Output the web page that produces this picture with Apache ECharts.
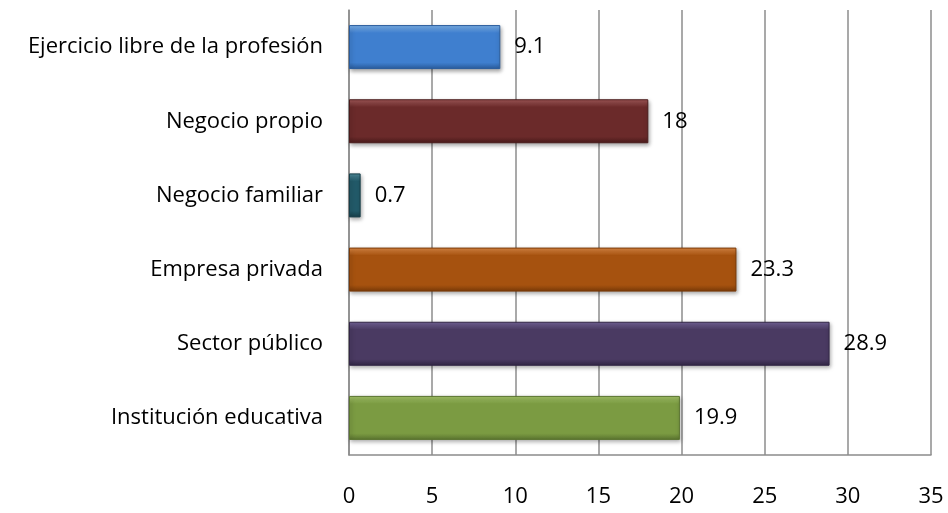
<!DOCTYPE html>
<html>
<head>
<meta charset="utf-8">
<script src="https://cdn.jsdelivr.net/npm/echarts@6/dist/echarts.min.js"></script>
<style>html,body{margin:0;padding:0;background:#fff;}#c{width:948px;height:513px;}</style>
</head>
<body>
<div id="c"></div>
<script>
// Data (bottom to top as drawn)
const categories = ['Institución educativa', 'Sector público', 'Empresa privada', 'Negocio familiar', 'Negocio propio', 'Ejercicio libre de la profesión'];
const values = [19.9, 28.9, 23.3, 0.7, 18, 9.1];
const xTicks = [0, 5, 10, 15, 20, 25, 30, 35];

const palette = [
  ['#a6c66a', '#7b9b42', '#5b7530'],
  ['#75669a', '#4a3a62', '#322645'],
  ['#e08a45', '#a6520f', '#7a3a08'],
  ['#4f8c9c', '#225a69', '#163e49'],
  ['#a45a5a', '#6b2a2a', '#4a1b1b'],
  ['#7fb5ee', '#3f7fcf', '#2a5c9c']
];

const chart = echarts.init(document.getElementById('c'), null, {renderer: 'canvas'});
const FONT = 'Open Sans';
chart.setOption({
  animation: false,
  grid: {left: 349, right: 17, top: 10, bottom: 58, containLabel: false},
  xAxis: {
    type: 'value', min: xTicks[0], max: xTicks[xTicks.length - 1], interval: 5,
    axisLine: {show: true, lineStyle: {color: '#8c8c8c', width: 1.5}},
    axisTick: {show: false},
    splitLine: {show: true, lineStyle: {color: '#8c8c8c', width: 1.5}},
    axisLabel: {color: '#000', fontSize: 22, fontFamily: FONT, margin: 31}
  },
  yAxis: {
    type: 'category', data: categories,
    axisLine: {show: true, lineStyle: {color: '#8c8c8c', width: 1.5}},
    axisTick: {show: false},
    axisLabel: {color: '#000', fontSize: 22, fontFamily: FONT, margin: 26}
  },
  series: [{
    type: 'bar',
    barWidth: 44,
    data: values.map((v, i) => ({
      value: v,
      itemStyle: {
        color: new echarts.graphic.LinearGradient(0, 0, 0, 1, [
          {offset: 0, color: palette[i][0]},
          {offset: 0.18, color: palette[i][1]},
          {offset: 0.85, color: palette[i][1]},
          {offset: 1, color: palette[i][2]}
        ]),
        borderColor: palette[i][2],
        borderWidth: 1,
        shadowColor: 'rgba(0,0,0,0.35)',
        shadowBlur: 4,
        shadowOffsetX: 1,
        shadowOffsetY: 2
      }
    })),
    label: {
      show: true, position: 'right', distance: 14,
      color: '#000', fontSize: 22, fontFamily: FONT
    }
  }]
});
</script>
</body>
</html>
